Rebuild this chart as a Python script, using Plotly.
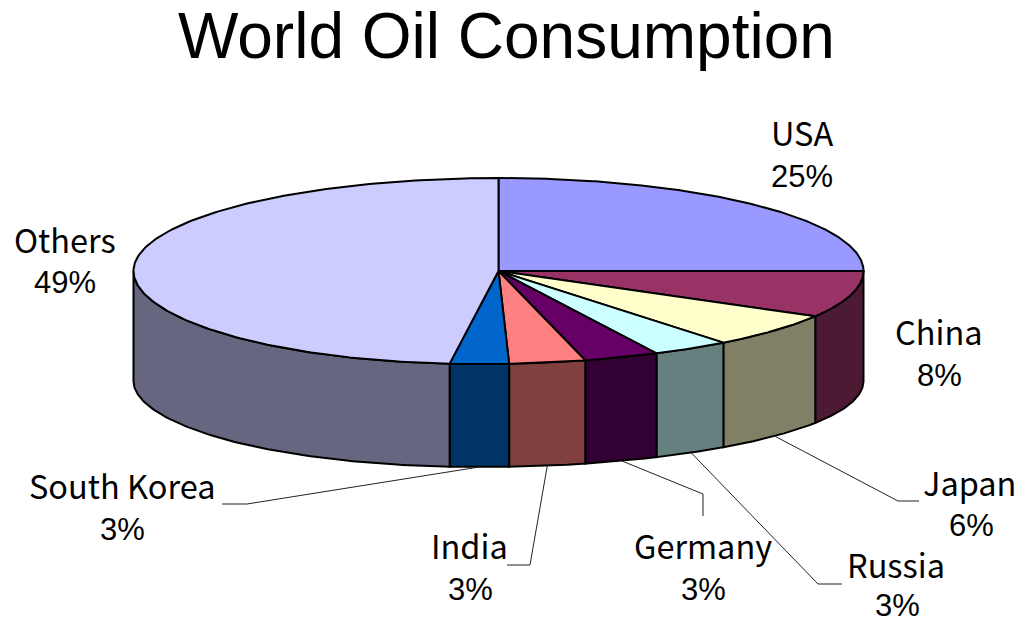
import numpy as np
import plotly.graph_objects as go

# Share of world oil consumption, in percent, clockwise from twelve o'clock
countries = ["USA", "China", "Japan", "Russia", "Germany", "India", "South Korea", "Others"]
shares = [25.0, 8.1, 5.9, 3.3, 3.2, 3.3, 2.6, 48.6]
top_colors = ["#9999FF", "#993366", "#FFFFCC", "#CCFFFF", "#660066", "#FF8080", "#0066CC", "#CCCCFF"]
wall_colors = ["#666699", "#4D1A33", "#808066", "#668080", "#330033", "#804040", "#003366", "#666680"]

# Geometry of the tilted disc on a 1016x623 canvas
CX, CY, RX, RY = 498.5, 271.0, 365.0, 93.0
BOTTOM_CY, BOTTOM_RY = 381.0, 86.0
SKEW = 17.0

# Label centres (name, percent) and leader-line elbows
label_pos = {
    "USA": ((802, 131), (802, 176)),
    "China": ((939, 330), (939, 375)),
    "Japan": ((969, 481), (971, 525)),
    "Russia": ((896, 563), (897, 605)),
    "Germany": ((703, 544), (703, 589)),
    "India": ((469, 544), (470, 589)),
    "South Korea": ((122, 484), (122, 529)),
    "Others": ((65, 238), (65, 282)),
}
leader_elbows = {
    "Japan": [(898, 501), (919, 501)],
    "Russia": [(818, 584), (842, 584)],
    "Germany": [(703, 494), (703, 516)],
    "India": [(530, 565), (507, 565)],
    "South Korea": [(247, 504), (222, 504)],
}


def rim(clock_deg, cy, ry):
    """Screen position of a rim point; clock_deg runs clockwise from twelve o'clock."""
    phi = np.radians(np.asarray(clock_deg, dtype=float) - 90.0)
    front = np.sin(phi) > 0
    shift = np.where(front, SKEW * np.abs(np.sin(phi)) ** 3, 0.0)
    return CX + RX * np.cos(phi) - shift, cy + ry * np.sin(phi)


total = sum(shares)
edges = np.concatenate([[0.0], np.cumsum(shares)]) / total * 360.0
fig = go.Figure()


def polygon(xs, ys, fill):
    fig.add_trace(go.Scatter(
        x=xs, y=ys, mode="lines", fill="toself", fillcolor=fill,
        line=dict(color="black", width=2), hoverinfo="skip", showlegend=False,
    ))


# Side walls of the front half
for i in range(len(shares)):
    start, end = max(edges[i], 90.0), min(edges[i + 1], 270.0)
    if end <= start:
        continue
    arc = np.linspace(start, end, 90)
    tx, ty = rim(arc, CY, RY)
    bx, by = rim(arc, BOTTOM_CY, BOTTOM_RY)
    polygon(np.r_[tx, bx[::-1], tx[0]], np.r_[ty, by[::-1], ty[0]], wall_colors[i])

# Top faces
for i in range(len(shares)):
    arc = np.linspace(edges[i], edges[i + 1], 200)
    tx, ty = rim(arc, CY, RY)
    polygon(np.r_[CX, tx, CX], np.r_[CY, ty, CY], top_colors[i])

# Leader lines run from the middle of a slice's lower rim to its label
for i, name in enumerate(countries):
    if name not in leader_elbows:
        continue
    ax, ay = rim((edges[i] + edges[i + 1]) / 2.0, BOTTOM_CY, BOTTOM_RY)
    pts = leader_elbows[name]
    fig.add_trace(go.Scatter(
        x=[float(ax)] + [p[0] for p in pts], y=[float(ay)] + [p[1] for p in pts],
        mode="lines", line=dict(color="#222222", width=1), hoverinfo="skip", showlegend=False,
    ))

NAME_FONT = dict(family="Noto Sans CJK JP", size=32.5, color="black")
PCT_FONT = dict(family="Liberation Sans", size=31, color="black")
annotations = [dict(
    x=506, y=36, xref="x", yref="y", text="World Oil Consumption", showarrow=False,
    xanchor="center", yanchor="middle",
    font=dict(family="Liberation Sans", size=64, color="black"),
)]
for name, value in zip(countries, shares):
    name_xy, pct_xy = label_pos[name]
    annotations.append(dict(x=name_xy[0], y=name_xy[1], xref="x", yref="y", text=name,
                            showarrow=False, xanchor="center", yanchor="middle", font=NAME_FONT))
    annotations.append(dict(x=pct_xy[0], y=pct_xy[1], xref="x", yref="y",
                            text=f"{round(value / total * 100)}%",
                            showarrow=False, xanchor="center", yanchor="middle", font=PCT_FONT))

fig.update_layout(
    width=1016, height=623, margin=dict(l=0, r=0, t=0, b=0),
    paper_bgcolor="white", plot_bgcolor="white",
    xaxis=dict(range=[0, 1016], visible=False, fixedrange=True),
    yaxis=dict(range=[623, 0], visible=False, fixedrange=True),
    annotations=annotations,
)
fig.write_html("out.html", config=dict(displayModeBar=False))
